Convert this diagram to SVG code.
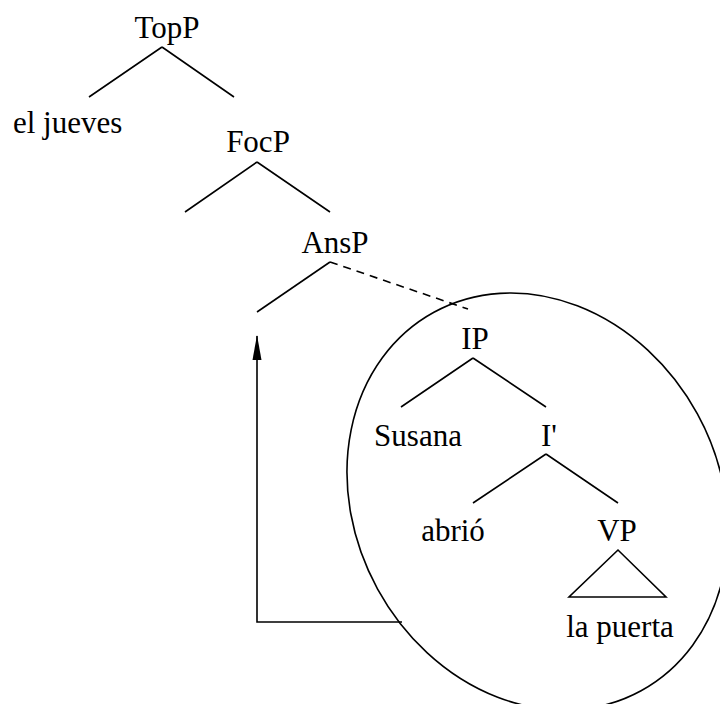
<svg xmlns="http://www.w3.org/2000/svg" width="720" height="704" viewBox="0 0 720 704">
<style>
text{font-family:"Liberation Serif","Times New Roman",serif;font-size:31px;fill:#000;text-anchor:middle}
.ln{stroke:#000;stroke-width:1.6;fill:none}
.dash{stroke-dasharray:8,6}
</style>
<defs>
<marker id="ah" markerUnits="userSpaceOnUse" markerWidth="12" markerHeight="26" refX="5" refY="1" orient="0" viewBox="0 0 10 26">
<path d="M5,0 L9.5,25 L0.5,25 Z" fill="#000"/>
</marker>
</defs>
<rect width="720" height="704" fill="#fff"/>
<g id="connectors">
<path class="ln" d="M162,47 L89,97 M162,47 L234,97"/>
<path class="ln" d="M257,162 L185,212 M257,162 L330,212"/>
<path class="ln" d="M330,262 L257,312"/>
<path class="ln dash" d="M330,262 L468,309"/>
<path class="ln" d="M473,358 L401,407 M473,358 L546,407"/>
<path class="ln" d="M546,454 L473,503 M546,454 L618,503"/>
<path class="ln" d="M618,550 L569,597 L666,597 Z"/>
<path class="ln" d="M402,622 L257,622 L257,336" marker-end="url(#ah)"/>
</g>
<g id="ellipse">
<ellipse class="ln" cx="537.5" cy="501.5" rx="182.3" ry="215.7" transform="rotate(-28.7 537.5 501.5)"/>
</g>
<g id="TopP"><text x="167" y="38">TopP</text></g>
<g id="eljueves"><text x="13" y="133" style="text-anchor:start">el jueves</text></g>
<g id="FocP"><text x="258" y="152">FocP</text></g>
<g id="AnsP"><text x="335" y="253">AnsP</text></g>
<g id="IP"><text x="475" y="349">IP</text></g>
<g id="Susana"><text x="418" y="446">Susana</text></g>
<g id="Ibar"><text x="549" y="446">I'</text></g>
<g id="abrio"><text x="453" y="541">abrió</text></g>
<g id="VP"><text x="617" y="541">VP</text></g>
<g id="lapuerta"><text x="620" y="637">la puerta</text></g>
</svg>
